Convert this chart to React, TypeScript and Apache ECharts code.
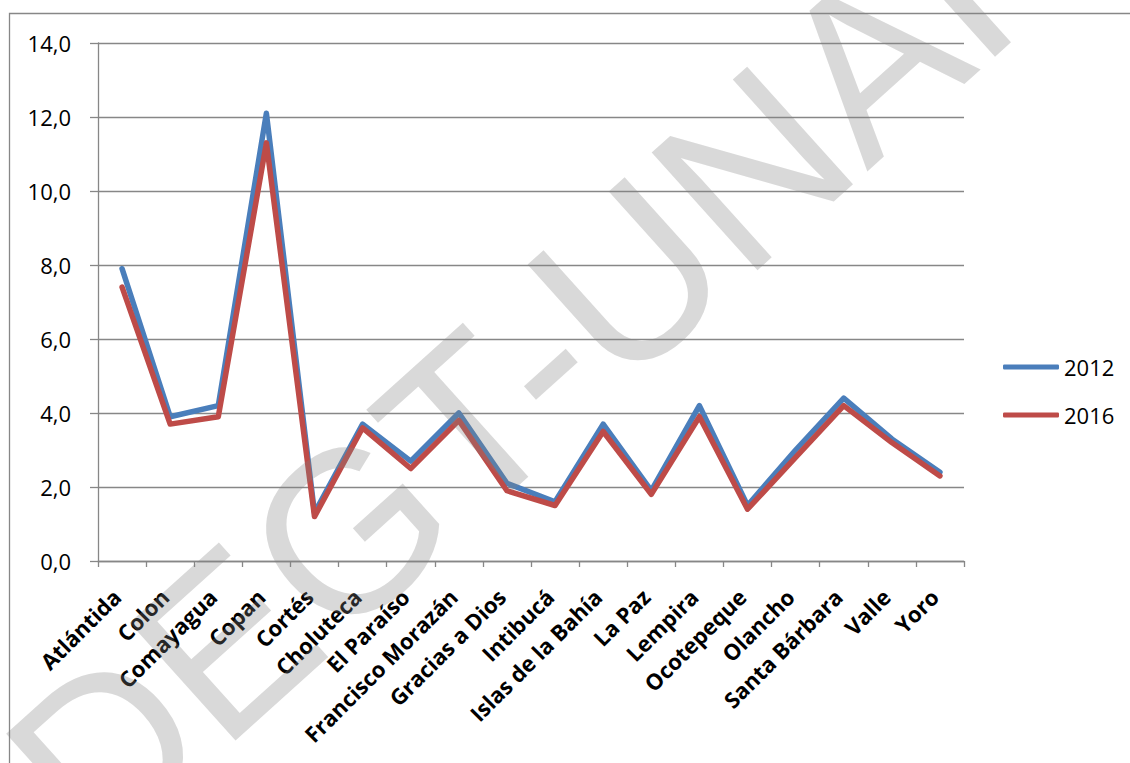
import React, { useEffect, useRef } from "react";
import * as echarts from "echarts";

const categories = [
  "Atlántida", "Colon", "Comayagua", "Copan", "Cortés", "Choluteca", "El Paraíso",
  "Francisco Morazán", "Gracias a Dios", "Intibucá", "Islas de la Bahía", "La Paz",
  "Lempira", "Ocotepeque", "Olancho", "Santa Bárbara", "Valle", "Yoro",
];
const seriesNames = ["2012", "2016"];
const values2012 = [7.9, 3.9, 4.2, 12.1, 1.3, 3.7, 2.7, 4.0, 2.1, 1.6, 3.7, 1.9, 4.2, 1.5, 3.0, 4.4, 3.3, 2.4];
const values2016 = [7.4, 3.7, 3.9, 11.3, 1.2, 3.6, 2.5, 3.8, 1.9, 1.5, 3.5, 1.8, 3.9, 1.4, 2.8, 4.2, 3.2, 2.3];
const seriesColors = ["#4A7EBB", "#BE4B48"];
const watermarkText = "DEGT-UNAH";

export default function App() {
  const ref = useRef<HTMLDivElement>(null);
  useEffect(() => {
    const chart = echarts.init(ref.current!, null, { renderer: "svg" });
    const axisGray = "#878787";
    chart.setOption({
      animation: false,
      backgroundColor: "#ffffff",
      grid: { left: 98, right: 166, top: 43, bottom: 202, containLabel: false },
      legend: {
        orient: "vertical",
        left: 998,
        top: 350,
        itemWidth: 56,
        itemHeight: 5,
        itemGap: 24,
        icon: "roundRect",
        data: seriesNames,
        textStyle: { fontFamily: "Open Sans", fontSize: 22, color: "#000", lineHeight: 24 },
      },
      xAxis: {
        type: "category",
        data: categories,
        boundaryGap: true,
        axisLine: { lineStyle: { color: axisGray, width: 1.3 } },
        axisTick: { show: true, length: 6, alignWithLabel: false, interval: 0, lineStyle: { color: axisGray, width: 1.3 } },
        axisLabel: {
          interval: 0,
          rotate: 45,
          margin: 26,
          padding: [0, 8, 0, 0],
          fontFamily: "Open Sans",
          fontWeight: "bold",
          fontSize: 22,
          color: "#000",
        },
        splitLine: { show: false },
      },
      yAxis: {
        type: "value",
        min: 0,
        max: 14,
        interval: 2,
        axisLine: { show: true, lineStyle: { color: axisGray, width: 1.3 } },
        axisTick: { show: true, length: 8, lineStyle: { color: axisGray, width: 1.3 } },
        axisLabel: {
          margin: 27,
          fontFamily: "Open Sans",
          fontSize: 22,
          color: "#000",
          formatter: (v: number) => v.toFixed(1).replace(".", ","),
        },
        splitLine: { show: true, lineStyle: { color: axisGray, width: 1.3 } },
      },
      series: [
        {
          name: seriesNames[0],
          type: "line",
          data: values2012,
          symbol: "none",
          color: seriesColors[0],
          lineStyle: { width: 5.5, color: seriesColors[0], cap: "round", join: "round" },
          z: 2,
        },
        {
          name: seriesNames[1],
          type: "line",
          data: values2016,
          symbol: "none",
          color: seriesColors[1],
          lineStyle: { width: 5.5, color: seriesColors[1], cap: "round", join: "round" },
          z: 3,
        },
      ],
      graphic: [
        {
          type: "rect",
          z: -10,
          silent: true,
          shape: { x: 9.5, y: 13.5, width: 1300, height: 900 },
          style: { fill: "none", stroke: axisGray, lineWidth: 1.3 },
        },
        {
          type: "text",
          z: 100,
          silent: true,
          x: 548,
          y: 352,
          rotation: (42 * Math.PI) / 180,
          style: {
            text: watermarkText,
            fontSize: 230,
            fontFamily: "Liberation Sans",
            fill: "rgba(128,128,128,0.3)",
            align: "center",
            verticalAlign: "middle",
            textAlign: "center",
            textVerticalAlign: "middle",
          },
        },
      ],
    });
    return () => chart.dispose();
  }, []);
  return (
    <div
      ref={ref}
      style={{ position: "absolute", left: 0, top: 0, width: 1130, height: 763, background: "#fff" }}
    />
  );
}
